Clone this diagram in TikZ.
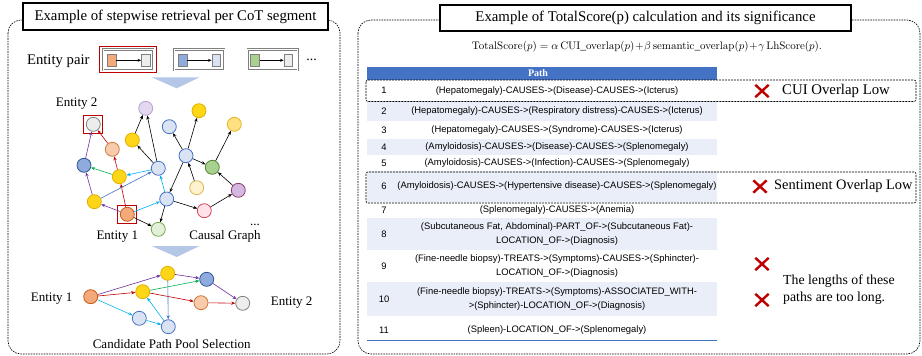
\documentclass[tikz,border=0pt]{standalone}
\usepackage[no-math]{fontspec}
\setmainfont{Liberation Serif}
\newfontfamily\tabfont{Liberation Sans}
\usetikzlibrary{arrows.meta,shapes.misc}

\definecolor{cYel}{HTML}{FFD518}
\definecolor{cYelD}{HTML}{DDB100}
\definecolor{cLYel}{HTML}{FFE083}
\definecolor{cLYelD}{HTML}{E6B422}
\definecolor{cCream}{HTML}{FFF2CC}
\definecolor{cCreamD}{HTML}{D6B656}
\definecolor{cLav}{HTML}{E4D7F0}
\definecolor{cLavD}{HTML}{B4A0D0}
\definecolor{cLBlue}{HTML}{DAE3F3}
\definecolor{cLBlueD}{HTML}{4472C4}
\definecolor{cDBlue}{HTML}{8FAADC}
\definecolor{cDBlueD}{HTML}{2F5597}
\definecolor{cGrn}{HTML}{A9D18E}
\definecolor{cGrnD}{HTML}{548235}
\definecolor{cPur}{HTML}{D5B8E0}
\definecolor{cPurD}{HTML}{8E3B6E}
\definecolor{cPink}{HTML}{FFE3E8}
\definecolor{cPinkD}{HTML}{D9415A}
\definecolor{cOr}{HTML}{F4A97A}
\definecolor{cOrD}{HTML}{C55A11}
\definecolor{cPeach}{HTML}{F8CBAD}
\definecolor{cPeachD}{HTML}{D07A3A}
\definecolor{cGray}{HTML}{EDEDED}
\definecolor{cGrayD}{HTML}{7F7F7F}
\definecolor{cLGrn}{HTML}{E2F0D9}
\definecolor{cLGrnD}{HTML}{70AD47}
\definecolor{aRed}{HTML}{C00000}
\definecolor{aCyan}{HTML}{00B0F0}
\definecolor{aPur}{HTML}{7030A0}
\definecolor{aGrn}{HTML}{00B050}
\definecolor{aSteel}{HTML}{4472C4}
\definecolor{triBlue}{HTML}{B4C7E7}
\definecolor{hdrBlue}{HTML}{4472C4}
\definecolor{rowShade}{HTML}{E9EEF8}
\definecolor{xRed}{HTML}{C00000}

\tikzset{
  gn/.style={circle, minimum size=14pt, inner sep=0pt, line width=0.8pt},
  nyel/.style={gn, fill=cYel, draw=cYelD},
  nlyel/.style={gn, fill=cLYel, draw=cLYelD},
  ncream/.style={gn, fill=cCream, draw=cCreamD},
  nlav/.style={gn, fill=cLav, draw=cLavD},
  nlb/.style={gn, fill=cLBlue, draw=cLBlueD},
  ndb/.style={gn, fill=cDBlue, draw=cDBlueD},
  ngrn/.style={gn, fill=cGrn, draw=cGrnD},
  npur/.style={gn, fill=cPur, draw=cPurD},
  npink/.style={gn, fill=cPink, draw=cPinkD},
  nor/.style={gn, fill=cOr, draw=cOrD},
  npeach/.style={gn, fill=cPeach, draw=cPeachD},
  ngray/.style={gn, fill=cGray, draw=cGrayD},
  nlgrn/.style={gn, fill=cLGrn, draw=cLGrnD},
  arr/.style={line width=0.6pt, -{Stealth[length=4pt,width=3.2pt]}},
  ablk/.style={arr, draw=black},
  ared/.style={arr, draw=aRed},
  acyan/.style={arr, draw=aCyan},
  apur/.style={arr, draw=aPur},
  agrn/.style={arr, draw=aGrn},
  asteel/.style={arr, draw=aSteel},
  redsq/.style={draw=aRed, line width=1pt, minimum width=19pt, minimum height=18pt, inner sep=0pt},
  frame/.style={line width=0.6pt, dash pattern=on 1.6pt off 1pt, rounded corners=13pt},
  titlebox/.style={draw=black, fill=white, line width=1.1pt, inner sep=0pt, font=\fontsize{14.8}{16}\selectfont},
  lbl/.style={font=\fontsize{13}{15}\selectfont, inner sep=0pt},
  pairbox/.style={draw=cGrayD, double=white, double distance=0.7pt, line width=0.8pt, inner sep=0pt, minimum width=50pt, minimum height=20.5pt},
  sq/.style={draw=cGrayD, line width=0.7pt, minimum width=8.7pt, minimum height=12.7pt, inner sep=0pt},
  pairarr/.style={line width=0.6pt, -{Stealth[length=3.5pt,width=3pt]}},
  tcell/.style={font=\tabfont\fontsize{9.4}{13.5}\selectfont, inner sep=0pt, align=center},
  rowbox/.style={draw=black, line width=0.6pt, dash pattern=on 2pt off 1pt, rounded corners=2pt},
  xmark/.style={cross out, draw=xRed, line width=2.4pt, minimum width=11pt, minimum height=10pt, inner sep=0pt},
  note/.style={font=\fontsize{14.8}{17}\selectfont, inner sep=0pt, anchor=west, align=left},
}

\begin{document}
\begin{tikzpicture}[x=1pt,y=-1pt]
\useasboundingbox (0,0) rectangle (922,356);
\fill[white] (0,0) rectangle (922,356);

%================ LEFT PANEL ================
\draw[frame] (8,20) rectangle (340,354);
\node[titlebox, minimum width=305pt, minimum height=27pt] (ltitle) at (175.5,16.5) {Example of stepwise retrieval per CoT segment};

% entity pairs
\node[font=\fontsize{14.7}{16}\selectfont, inner sep=0pt] (epair) at (58.3,61.5) {Entity pair};
\node[draw=aRed, line width=1.1pt, minimum width=57.4pt, minimum height=26pt, inner sep=0pt] (pr1) at (128,59.7) {};
\node[pairbox] (pb1) at (128,59.7) {};
\node[sq, fill=cOr] (p1a) at (111.7,60.3) {};
\node[sq, fill=cGray] (p1b) at (145.8,60.3) {};
\draw[pairarr] (p1a) -- (p1b);
\node[pairbox] (pb2) at (199.2,59.7) {};
\node[sq, fill=cDBlue] (p2a) at (182.5,60.3) {};
\node[sq, fill=cLBlue] (p2b) at (216.2,60.3) {};
\draw[pairarr] (p2a) -- (p2b);
\node[pairbox] (pb3) at (272.7,59.7) {};
\node[sq, fill=cGrn] (p3a) at (255,60.3) {};
\node[sq, fill=cGray] (p3b) at (288.3,60.3) {};
\draw[pairarr] (p3a) -- (p3b);
\node[font=\fontsize{14}{16}\selectfont, inner sep=0pt] (edots) at (311.7,60) {...};

% triangles
\fill[triBlue] (151.7,77.3) -- (199.5,77.3) -- (176.7,88.3) -- cycle;
\fill[triBlue] (151.7,246) -- (199.5,246) -- (176.7,257) -- cycle;

% causal graph
\node[nlav] (lav) at (145.7,108.3) {};
\node[nyel] (ytop) at (199,110.7) {};
\node[nlb] (lbtop) at (169.3,126.7) {};
\node[nlyel] (lyel) at (234.3,124.3) {};
\node[ngray] (gray1) at (93.3,124.3) {};
\node[nyel] (y2) at (132.3,140) {};
\node[npeach] (peach) at (112.3,149.3) {};
\node[nlb] (bc) at (186,155.7) {};
\node[ndb] (db) at (84,165.3) {};
\node[ngrn] (grn) at (212.3,167.3) {};
\node[nlb] (lbm) at (158.3,168.3) {};
\node[nyel] (ym) at (119.3,176.7) {};
\node[ncream] (pyel) at (196.7,187.7) {};
\node[npur] (purp) at (238.3,190.3) {};
\node[nyel] (yll) at (94.3,201.7) {};
\node[nlb] (lbl) at (166.7,199) {};
\node[npink] (pink) at (204.3,210.7) {};
\node[nor] (or1) at (127.3,214.3) {};
\node[nlgrn] (lgr) at (158.3,229.3) {};
\node[redsq] (sq2) at (gray1) {};
\node[redsq] (sq1) at (or1) {};

\draw[ablk] (y2) -- (lav);
\draw[ablk] (lbm) -- (lav);
\draw[ablk] (lbm) -- (y2);
\draw[ablk] (bc) -- (lbtop);
\draw[ablk] (bc) -- (ytop);
\draw[ablk] (bc) -- (grn);
\draw[ablk] (bc) -- (lbl);
\draw[ablk] (pyel) -- (bc);
\draw[ablk] (grn) -- (lyel);
\draw[ablk] (purp) -- (grn);
\draw[ablk] (pink) -- (purp);
\draw[ablk] (lbl) -- (pink);
\draw[ablk] (lbl) -- (lgr);
\draw[ablk] (or1) -- (lgr);
\draw[acyan] (or1) -- (lbl);
\draw[acyan] (lbl) -- (lbm);
\draw[acyan] (lbm) -- (ym);
\draw[ared] (or1) -- (ym);
\draw[ared] (ym) -- (peach);
\draw[ared] (peach) -- (gray1);
\draw[agrn] (ym) -- (db);
\draw[apur] (or1) -- (yll);
\draw[apur] (yll) -- (db);
\draw[apur] (db) -- (gray1);
\draw[asteel] (yll) -- (lbm);

\node[lbl] (e2a) at (76.7,103.5) {Entity 2};
\node[lbl] (e1a) at (117.3,236.5) {Entity 1};
\node[lbl] (cg) at (225,236.5) {Causal Graph};
\node[lbl] (gdots) at (255,225) {...};

% candidate path pool
\node[nor] (bor) at (90.7,296.7) {};
\node[nyel] (byt) at (167.7,273.3) {};
\node[ndb] (bbt) at (206.7,279.3) {};
\node[nyel] (bym) at (142.7,291.7) {};
\node[npeach] (bpe) at (201,302.7) {};
\node[ngray] (bgr) at (242.7,303.3) {};
\node[nlb] (blbl) at (139.3,318.3) {};
\node[nlb] (blbr) at (168.3,326.7) {};

\draw[apur] (bor) -- (byt);
\draw[apur] (byt) -- (bbt);
\draw[apur] (bbt) -- (bgr);
\draw[ared] (bor) -- (bym);
\draw[ared] (bym) -- (bpe);
\draw[ared] (bpe) -- (bgr);
\draw[agrn] (bym) -- (bbt);
\draw[acyan] (bor) -- (blbl);
\draw[acyan] (blbl) -- (blbr);
\draw[acyan] (blbr) -- (bym);
\draw[asteel] (byt) -- (blbr);

\node[lbl] (e1b) at (51.7,299) {Entity 1};
\node[lbl] (e2b) at (291.7,302.5) {Entity 2};
\node[lbl] (cpps) at (171.7,344.5) {Candidate Path Pool Selection};

%================ RIGHT PANEL ================
\draw[frame] (358,20) rectangle (920,354);
\node[titlebox, minimum width=411pt, minimum height=26pt] (rtitle) at (645.5,18) {Example of TotalScore(p) calculation and its significance};

\node[inner sep=0pt, font=\fontsize{11.3}{13}\selectfont] (formula) at (647,46.5)
  {$\mathrm{TotalScore}(p)=\alpha\,\mathrm{CUI\_overlap}(p)\!+\!\beta\,\mathrm{semantic\_overlap}(p)\!+\!\gamma\,\mathrm{LhScore}(p).$};

% table backgrounds
\fill[hdrBlue] (367,67) rectangle (717,80);
\fill[rowShade] (367,101) rectangle (717,121);
\fill[rowShade] (367,139) rectangle (717,155);
\fill[rowShade] (367,171) rectangle (717,202);
\fill[rowShade] (367,218) rectangle (717,250);
\fill[rowShade] (367,282) rectangle (717,316);
\draw[hdrBlue, line width=0.8pt] (367,340) -- (717,340);

\node[inner sep=0pt, text=white, font=\bfseries\fontsize{10}{12}\selectfont] (hpath) at (538,73.5) {Path};

\node[tcell] (n1) at (384,90.7) {1};
\node[tcell] (t1) at (557,90.7) {(Hepatomegaly)-CAUSES->(Disease)-CAUSES->(Icterus)};
\node[tcell] (n2) at (384,111) {2};
\node[tcell] (t2) at (557,111) {(Hepatomegaly)-CAUSES->(Respiratory distress)-CAUSES->(Icterus)};
\node[tcell] (n3) at (384,130.5) {3};
\node[tcell] (t3) at (557,130.5) {(Hepatomegaly)-CAUSES->(Syndrome)-CAUSES->(Icterus)};
\node[tcell] (n4) at (384,147) {4};
\node[tcell] (t4) at (557,147) {(Amyloidosis)-CAUSES->(Disease)-CAUSES->(Splenomegaly)};
\node[tcell] (n5) at (384,163) {5};
\node[tcell] (t5) at (557,163) {(Amyloidosis)-CAUSES->(Infection)-CAUSES->(Splenomegaly)};
\node[tcell] (n6) at (384,186.5) {6};
\node[tcell] (t6) at (557,186.5) {(Amyloidosis)-CAUSES->(Hypertensive disease)-CAUSES->(Splenomegaly)};
\node[tcell] (n7) at (384,210) {7};
\node[tcell] (t7) at (557,210) {(Splenomegaly)-CAUSES->(Anemia)};
\node[tcell] (n8) at (384,234) {8};
\node[tcell] (t8) at (557,234) {(Subcutaneous Fat, Abdominal)-PART\_OF->(Subcutaneous Fat)-\\LOCATION\_OF->(Diagnosis)};
\node[tcell] (n9) at (384,266) {9};
\node[tcell] (t9) at (557,266) {(Fine-needle biopsy)-TREATS->(Symptoms)-CAUSES->(Sphincter)-\\LOCATION\_OF->(Diagnosis)};
\node[tcell] (n10) at (384,299) {10};
\node[tcell] (t10) at (557,299) {(Fine-needle biopsy)-TREATS->(Symptoms)-ASSOCIATED\_WITH-\\>(Sphincter)-LOCATION\_OF->(Diagnosis)};
\node[tcell] (n11) at (384,330) {11};
\node[tcell] (t11) at (557,330) {(Spleen)-LOCATION\_OF->(Splenomegaly)};

% dashed highlight rows
\draw[rowbox] (366,80) rectangle (916,101.5);
\draw[rowbox] (366,172) rectangle (916,203);

% crosses and notes
\node[xmark] (x1) at (762,91) {};
\node[note] (cui) at (782,91) {CUI Overlap Low};
\node[xmark] (x6) at (760,186.5) {};
\node[note, font=\fontsize{14.4}{17}\selectfont] (sent) at (774,186.5) {Sentiment Overlap Low};
\node[xmark] (x9) at (762,264) {};
\node[xmark] (x10) at (762,300) {};
\node[note, font=\fontsize{13.8}{17}\selectfont] (len) at (783,290) {The lengths of these\\paths are too long.};
\end{tikzpicture}
\end{document}
